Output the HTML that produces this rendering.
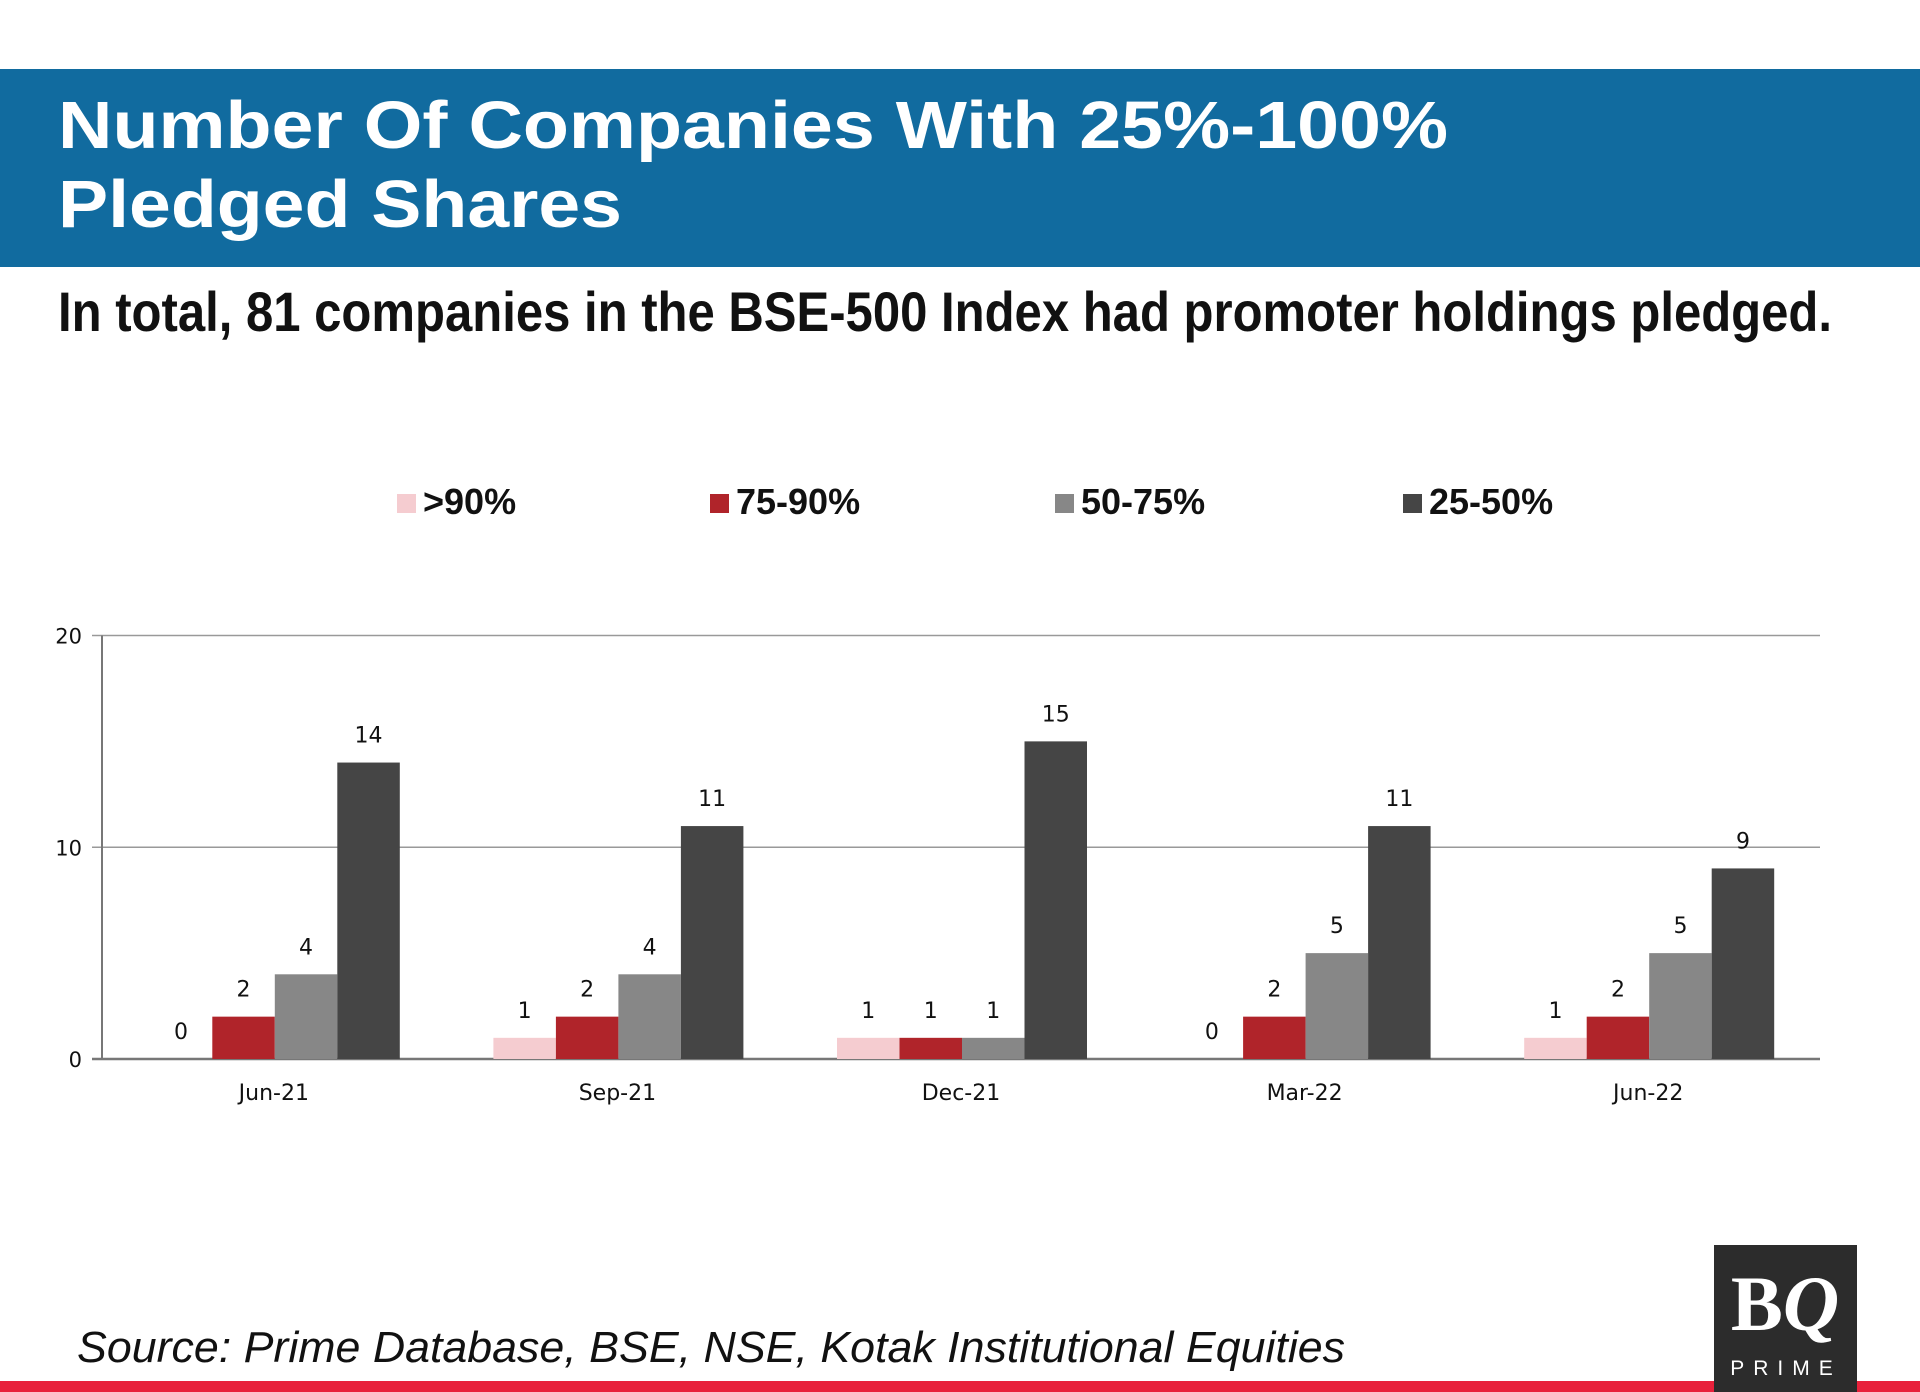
<!DOCTYPE html>
<html><head><meta charset="utf-8"><style>
html,body{margin:0;padding:0;background:#fff;}
svg{display:block;}
</style></head><body>
<svg id="chart" width="1920" height="1392" viewBox="0 0 1920 1392" xmlns="http://www.w3.org/2000/svg">
<rect x="0" y="69" width="1920" height="198" fill="#116b9f"/>
<text x="58" y="148" font-family="Liberation Sans, sans-serif" font-weight="bold" font-size="67" fill="#fff" textLength="1390" lengthAdjust="spacingAndGlyphs">Number Of Companies With 25%-100%</text>
<text x="58" y="227" font-family="Liberation Sans, sans-serif" font-weight="bold" font-size="67" fill="#fff" textLength="564" lengthAdjust="spacingAndGlyphs">Pledged Shares</text>
<text x="58" y="331" font-family="Liberation Sans Narrow, Liberation Sans, sans-serif" font-weight="bold" font-size="56" fill="#111" textLength="1774" lengthAdjust="spacingAndGlyphs">In total, 81 companies in the BSE-500 Index had promoter holdings pledged.</text>
<g id="legend"></g>
<g id="plot"></g>
<text x="77" y="1362" font-family="Liberation Sans, sans-serif" font-style="italic" font-size="44" fill="#111" textLength="1268" lengthAdjust="spacingAndGlyphs">Source: Prime Database, BSE, NSE, Kotak Institutional Equities</text>
<rect x="0" y="1381" width="1920" height="11" fill="#e8213b"/>
<g>
<rect x="1714" y="1245" width="143" height="147" fill="#2c2c2c"/>
<text x="1785" y="1330" text-anchor="middle" font-family="Liberation Serif, serif" font-weight="bold" font-size="78" fill="#fff">B<tspan font-style="italic">Q</tspan></text>
<text x="1786" y="1375" text-anchor="middle" font-family="Liberation Sans, sans-serif" font-size="21" fill="#fff" letter-spacing="9">PRIME</text>
</g>
</svg>
<script>
const categories = ["Jun-21","Sep-21","Dec-21","Mar-22","Jun-22"];
const seriesNames = [">90%","75-90%","50-75%","25-50%"];
const over90 = [0,1,1,0,1];
const p75to90 = [2,2,1,2,2];
const p50to75 = [4,4,1,5,5];
const p25to50 = [14,11,15,11,9];
const yTicks = [0,10,20];
const series = [over90,p75to90,p50to75,p25to50];
const colors = ["#f5ccd0","#b0242a","#878787","#454545"];
const NS="http://www.w3.org/2000/svg";
const plot=document.getElementById('plot');
const legend=document.getElementById('legend');
const X0=102,X1=1820,Y0=1059,Y20=635.5,YMAX=20;
const y=v=>Y0-(v/YMAX)*(Y0-Y20);
const groupW=(X1-X0)/categories.length;
const barW=62.5;
const xBar=(ci,si)=>X0+1+groupW*ci+groupW/2-2*barW+si*barW;
function mk(tag,attrs,parent){const e=document.createElementNS(NS,tag);for(const k in attrs)e.setAttribute(k,attrs[k]);parent.appendChild(e);return e;}
yTicks.forEach(t=>{
  const g=mk('line',{x1:X0-10,x2:X1,y1:y(t),y2:y(t),stroke:t===0?'#777':'#999','stroke-width':t===0?2.5:1.5},plot);
  
  
  const tl=mk('text',{x:X0-20,y:y(t)+8,'text-anchor':'end','font-family':'DejaVu Sans, sans-serif','font-size':21,fill:'#111'},plot);
  tl.textContent=t;
  
  
});
const ax=mk('line',{x1:X0,x2:X0,y1:Y20,y2:Y0,stroke:'#777','stroke-width':2},plot);


categories.forEach((c,ci)=>{
  series.forEach((s,si)=>{
    const v=s[ci];
    const r=mk('rect',{x:xBar(ci,si),y:y(v),width:barW,height:Y0-y(v),fill:colors[si]},plot);
    
    
    const lb=mk('text',{x:xBar(ci,si)+barW/2,y:y(v)-20,'text-anchor':'middle','font-family':'DejaVu Sans, sans-serif','font-size':22,fill:'#111'},plot);
    lb.textContent=v;
    
    
  });
  const cl=mk('text',{x:X0+groupW*ci+groupW/2,y:1100,'text-anchor':'middle','font-family':'DejaVu Sans, sans-serif','font-size':22,fill:'#111'},plot);
  cl.textContent=c;
  
  
});
const legX=[397,710,1055,1403];
seriesNames.forEach((n,i)=>{
  const sq=mk('rect',{x:legX[i],y:494,width:19,height:19,fill:colors[i]},legend);
  
  
  const t=mk('text',{x:legX[i]+26,y:514,'font-family':'Liberation Sans, sans-serif','font-weight':'bold','font-size':36,fill:'#111'},legend);
  t.textContent=n;
  
  
});
</script>
</body></html>
